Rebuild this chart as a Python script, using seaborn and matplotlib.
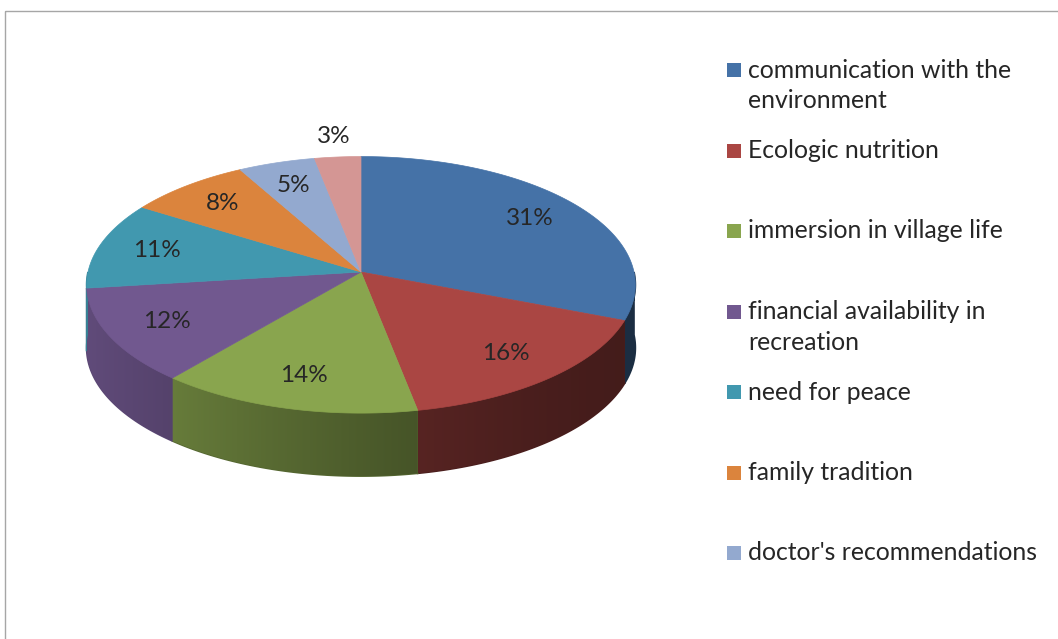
import numpy as np
import seaborn as sns
import matplotlib.pyplot as plt
from matplotlib.patches import Polygon, Rectangle
from matplotlib.colors import to_rgb


# Data
categories = ["communication with the\nenvironment", "Ecologic nutrition",
              "immersion in village life",
              "financial availability in\nrecreation", "need for peace",
              "family tradition", "doctor's recommendations", "other"]
shares = [31, 16, 14, 12, 11, 8, 5, 3]
colors = ["#4572A7", "#AA4643", "#89A54E", "#71588F", "#4198AF",
          "#DB843D", "#93A9CF", "#D49694"]
n_legend = 7  # last entry falls outside the chart area

# Geometry of the 3D pie (pixels)
CX, CY = 361, 272
RX, RY = 273, 127
PERSP = 0.10
DEPTH = 63


def project(theta, r=1.0):
    X = r * np.cos(theta)
    Y = r * np.sin(theta)
    f = 1.0 / (1.0 + PERSP * Y)
    return CX + RX * X * f, CY - RY * Y * f


def shade(theta):
    t = ((1 - np.cos(theta)) / 2) ** 1.5
    return 0.40 + 0.45 * t


sns.set_theme(style="white")
plt.rcParams["font.family"] = ["Lato", "DejaVu Sans"]
palette = sns.color_palette(colors)

fig = plt.figure(figsize=(10.58, 6.39), dpi=100)
ax = fig.add_axes([0, 0, 1, 1])
ax.set_xlim(0, 1058)
ax.set_ylim(639, 0)
ax.axis("off")
ax.add_patch(Rectangle((4.5, 10.5), 1100, 700, fill=False,
                       edgecolor="#a6a6a6", linewidth=1))

fracs = np.array(shares) / sum(shares)
bounds = np.deg2rad(90 - 360 * np.concatenate([[0], np.cumsum(fracs)]))

# Side walls (front half only), shaded with a horizontal gradient
for i, col in enumerate(palette):
    t0 = min(bounds[i], 0.0)
    t1 = max(bounds[i + 1], -np.pi)
    if t0 <= t1:
        continue
    thetas = np.linspace(t0, t1, 150)
    xs, ys = project(thetas)
    pts = list(zip(xs, ys)) + list(zip(xs[::-1], ys[::-1] + DEPTH))
    base = np.clip(np.array(to_rgb(col)) * shade((t0 + t1) / 2), 0, 1)
    # solid underlay hides antialiasing seams between walls
    ax.add_patch(Polygon(pts, closed=True, facecolor=base, edgecolor=base,
                         linewidth=1.2, zorder=0.9))
    wall = Polygon(pts, closed=True, facecolor="none", edgecolor="none")
    ax.add_patch(wall)
    gx = np.linspace(xs.min(), xs.max(), 200)
    gt = -np.arccos(np.clip((gx - CX) / RX, -1, 1))
    grad = np.clip(np.array(to_rgb(col))[None, :] * shade(gt)[:, None], 0, 1)
    im = ax.imshow(grad[None, :, :], extent=[xs.min(), xs.max(),
                                            ys.max() + DEPTH, ys.min()],
                   aspect="auto", interpolation="bilinear", zorder=1)
    im.set_clip_path(wall)

# Top faces
for i, col in enumerate(palette):
    thetas = np.linspace(bounds[i], bounds[i + 1], 200)
    xs, ys = project(thetas)
    pts = [(CX, CY)] + list(zip(xs, ys))
    ax.add_patch(Polygon(pts, closed=True, facecolor=col, edgecolor=col,
                         linewidth=0.5, zorder=2))

# Percentage labels
for i, v in enumerate(shares):
    mid = (bounds[i] + bounds[i + 1]) / 2
    r = 0.78 if v >= 4 else 1.2
    x, y = project(mid, r)
    ax.text(x, y, f"{v}%", ha="center", va="center", fontsize=17.5,
            color="#262626", zorder=3)

# Legend
for i in range(n_legend):
    y = 70 + 80.5 * i
    ax.add_patch(Rectangle((727, y - 7), 14, 14, facecolor=palette[i],
                           edgecolor="none"))
    for j, line in enumerate(categories[i].split("\n")):
        ax.text(748, y + 31 * j, line, ha="left", va="center",
                fontsize=17.8, color="#262626")

ax.set_xlim(0, 1058)
ax.set_ylim(639, 0)
fig.savefig("out.png", dpi=100)
